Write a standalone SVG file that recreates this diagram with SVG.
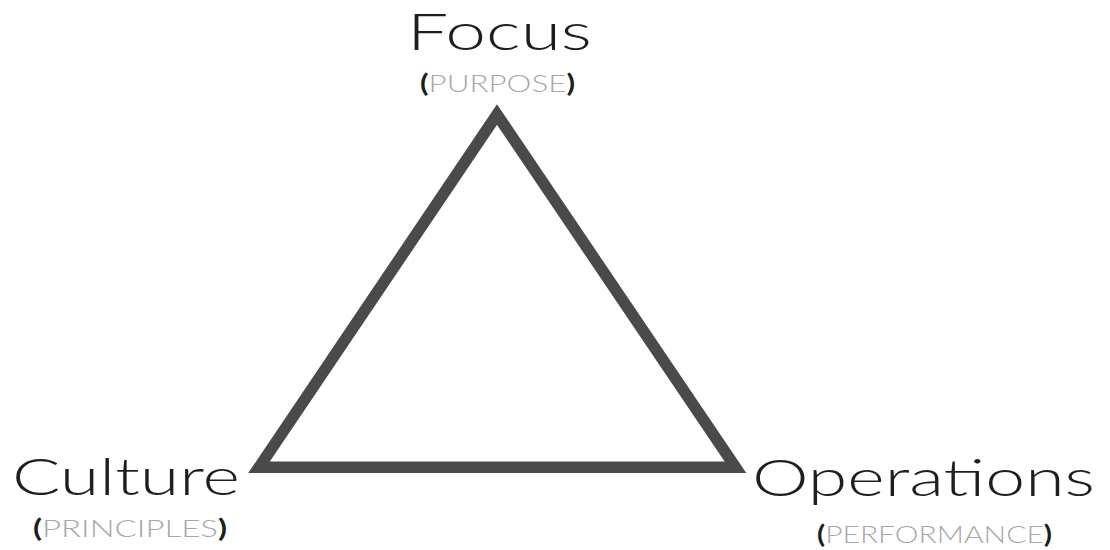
<svg xmlns="http://www.w3.org/2000/svg" width="1110" height="550" viewBox="0 0 1110 550">
<style>
.title{font-family:Lato,"Open Sans","DejaVu Sans",sans-serif;font-weight:300;fill:#1e1e1e;font-size:51px}
.sub{font-family:Lato,"Open Sans","DejaVu Sans",sans-serif;font-weight:300;fill:#a8a8a8;font-size:24px}
.paren{font-weight:700;fill:#1e1e1e}
</style>
<rect width="1110" height="550" fill="#ffffff"/>
<g id="connectors">
<polygon points="497,114.5 259,467.3 735.5,467.3" fill="none" stroke="#4a4a4a" stroke-width="11.5" stroke-linejoin="miter" stroke-miterlimit="10"/>
</g>
<g id="focus">
<text class="title" x="407" y="50" textLength="185" lengthAdjust="spacingAndGlyphs">Focus</text>
<text class="sub" x="420" y="92" textLength="155" lengthAdjust="spacingAndGlyphs"><tspan class="paren">(</tspan>PURPOSE<tspan class="paren">)</tspan></text>
</g>
<g id="culture">
<text class="title" x="12" y="495" textLength="228" lengthAdjust="spacingAndGlyphs">Culture</text>
<text class="sub" x="33" y="537" textLength="194" lengthAdjust="spacingAndGlyphs"><tspan class="paren">(</tspan>PRINCIPLES<tspan class="paren">)</tspan></text>
</g>
<g id="operations">
<text class="title" x="752" y="496" textLength="343" lengthAdjust="spacingAndGlyphs">Operations</text>
<text class="sub" x="817" y="543" textLength="235" lengthAdjust="spacingAndGlyphs"><tspan class="paren">(</tspan>PERFORMANCE<tspan class="paren">)</tspan></text>
</g>
</svg>
